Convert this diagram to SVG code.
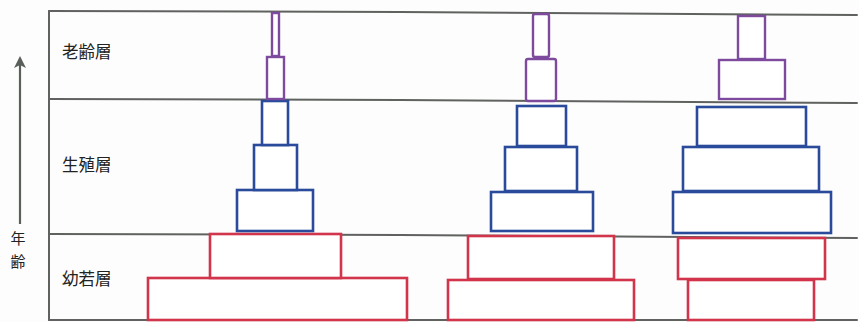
<svg xmlns="http://www.w3.org/2000/svg" width="859" height="322" viewBox="0 0 859 322">
<defs>
<marker id="ah" viewBox="0 0 12 20" refX="10" refY="10" markerWidth="12" markerHeight="20" orient="auto" markerUnits="userSpaceOnUse">
<path d="M0,4 L12,10 L0,16 L3,10 Z" fill="#5a5f5a"/>
</marker>
</defs>
<style>
.grid{stroke:#5f625f;stroke-width:2;fill:none;stroke-linecap:round}
.old{stroke:#7e4a9e;stroke-width:2.4;fill:#fff}
.rep{stroke:#2a4a9c;stroke-width:2.6;fill:#fff}
.yng{stroke:#d2344c;stroke-width:2.6;fill:#fff}
.lbl{font-family:"Noto Sans CJK JP","Noto Sans CJK SC",sans-serif;font-size:16.5px;fill:#222}
.ax{font-family:"Noto Sans CJK JP","Noto Sans CJK SC",sans-serif;font-size:15px;fill:#222}
</style>
<rect width="859" height="322" fill="#fdfdfd"/>
<g id="frame">
<path class="grid" d="M49,11 L49,320"/>
<path class="grid" d="M49,11 L400,12 L857,15"/>
<path class="grid" d="M49,99 L400,100 L857,103"/>
<path class="grid" d="M49,234 L400,235 L857,238"/>
<path class="grid" d="M49,320 L857,320"/>
</g>
<g id="axis">
<path d="M20,224 L20,58" stroke="#5a5f5a" stroke-width="2.2" fill="none" marker-end="url(#ah)"/>
<text class="ax" x="18" y="244" text-anchor="middle">年</text>
<text class="ax" x="18" y="267" text-anchor="middle">齢</text>
</g>
<g id="labels">
<text class="lbl" x="62" y="58">老齢層</text>
<text class="lbl" x="62" y="171">生殖層</text>
<text class="lbl" x="62" y="285">幼若層</text>
</g>
<g id="pyramid1">
<rect class="yng" x="148" y="278" width="259" height="42"/>
<rect class="yng" x="210" y="234" width="131" height="44"/>
<rect class="rep" x="237" y="190" width="76" height="41"/>
<rect class="rep" x="254" y="145" width="43" height="45"/>
<rect class="rep" x="262" y="101" width="26" height="44"/>
<rect class="old" x="267" y="57" width="17" height="42"/>
<rect class="old" x="272" y="13" width="7" height="43"/>
</g>
<g id="pyramid2">
<rect class="yng" x="448" y="280" width="186" height="40"/>
<rect class="yng" x="468" y="236" width="146" height="43"/>
<rect class="rep" x="491" y="192" width="102" height="39"/>
<rect class="rep" x="505" y="147" width="72" height="44"/>
<rect class="rep" x="517" y="106" width="49" height="40"/>
<rect class="old" x="526" y="59" width="30" height="42" rx="2"/>
<rect class="old" x="533" y="14" width="16" height="43" rx="2"/>
</g>
<g id="pyramid3">
<rect class="yng" x="688" y="280" width="126" height="40"/>
<rect class="yng" x="678" y="238" width="147" height="41"/>
<rect class="rep" x="673" y="192" width="158" height="41"/>
<rect class="rep" x="683" y="147" width="136" height="44"/>
<rect class="rep" x="697" y="107" width="109" height="39"/>
<rect class="old" x="719" y="60" width="66" height="39"/>
<rect class="old" x="738" y="16" width="27" height="43"/>
</g>
</svg>
